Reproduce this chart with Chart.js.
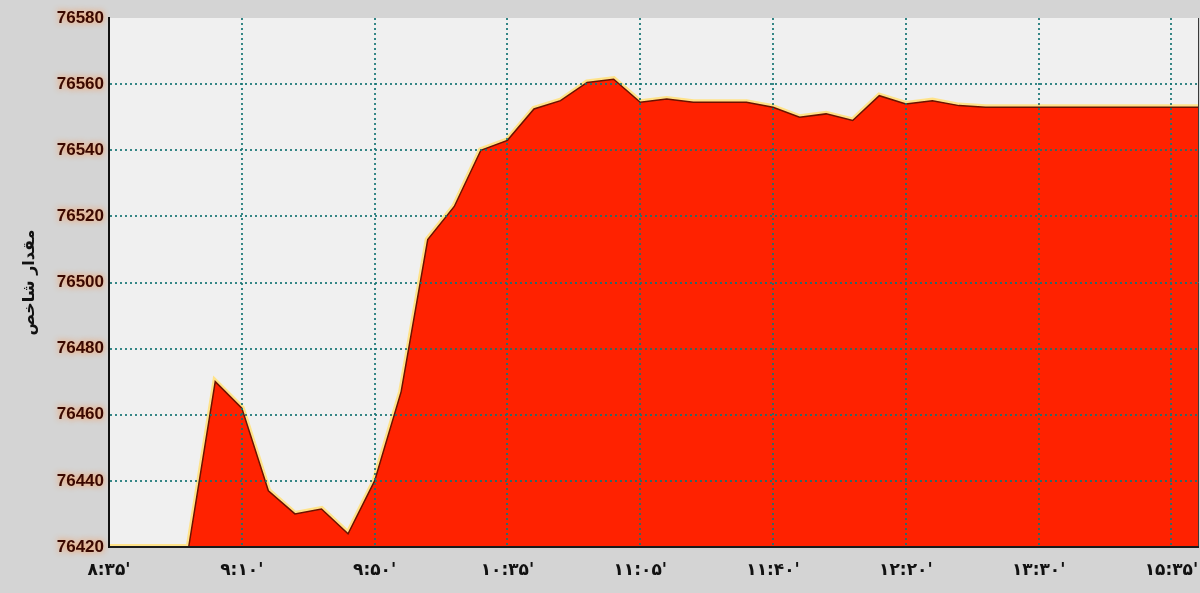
<!DOCTYPE html>
<html>
<head>
<meta charset="utf-8">
<script src="https://cdn.jsdelivr.net/npm/chart.js@4.4.1/dist/chart.umd.min.js"></script>
<style>
  html, body { margin: 0; padding: 0; background: #d4d4d4; }
  canvas { display: block; }
</style>
</head>
<body>
<canvas id="chart" width="1200" height="593"></canvas>
<script>
// tick labels every 5 samples
var tickLabels = ["۸:۳۵'", "۹:۱۰'", "۹:۵۰'", "۱۰:۳۵'", "۱۱:۰۵'", "۱۱:۴۰'", "۱۲:۲۰'", "۱۳:۳۰'", "۱۵:۳۵'"];

// index value, one sample per step
var values = [
  76420, 76420, 76420, 76420, 76470, 76462, 76437, 76430, 76431.5, 76424,
  76440, 76467, 76513, 76523, 76540, 76543, 76552.5, 76555, 76560.5, 76561.5,
  76554.5, 76555.5, 76554.5, 76554.5, 76554.5, 76553, 76550, 76551, 76549, 76556.5,
  76554, 76555, 76553.5, 76553, 76553, 76553, 76553, 76553, 76553, 76553,
  76553, 76553
];

var yMin = 76420, yMax = 76580, yStep = 20;
var yTitle = 'مقدار شاخص';

var categories = values.map(function(v, i){
    return i % 5 === 0 ? tickLabels[i / 5] : '';
});

var gridColor = 'rgba(20,115,115,0.85)';

// plot background + glow on y labels
var plotBg = {
    id: 'plotBg',
    beforeDraw: function(chart){
        var a = chart.chartArea, c = chart.ctx;
        c.save();
        c.fillStyle = '#f0f0f0';
        c.fillRect(a.left, a.top, a.right - a.left, a.bottom - a.top);
        c.strokeStyle = '#3a3a3a';
        c.lineWidth = 1;
        c.beginPath();
        c.moveTo(a.right + 0.5, a.top);
        c.lineTo(a.right + 0.5, a.bottom);
        c.stroke();
        c.restore();
        c.shadowColor = 'rgba(255,140,60,0.95)';
        c.shadowBlur = 6;
    },
    beforeDatasetsDraw: function(chart){
        chart.ctx.shadowColor = 'rgba(0,0,0,0)';
        chart.ctx.shadowBlur = 0;
    }
};

var ctx = document.getElementById('chart');
new Chart(ctx, {
    type: 'line',
    data: {
        labels: categories,
        datasets: [
            {
                data: values,
                fill: 'start',
                backgroundColor: '#ff2200',
                borderColor: '#6a1200',
                borderWidth: 1.5,
                pointRadius: 0,
                tension: 0,
                order: 1
            },
            {
                data: values,
                fill: false,
                borderColor: '#ffe38a',
                borderWidth: 6,
                pointRadius: 0,
                tension: 0,
                order: 2
            }
        ]
    },
    options: {
        responsive: false,
        animation: false,
        devicePixelRatio: 1,
        layout: { padding: { top: 18, right: 0, left: 0, bottom: 0 } },
        plugins: { legend: { display: false }, tooltip: { enabled: false } },
        scales: {
            x: {
                offset: false,
                grid: {
                    z: 1,
                    drawTicks: false,
                    lineWidth: 2,
                    color: function(c){ return (c.index > 0 && c.index % 5 === 0) ? gridColor : 'rgba(0,0,0,0)'; }
                },
                border: { display: true, color: '#1a1a1a', width: 2, dash: [2, 3], z: 2 },
                ticks: {
                    z: 2,
                    autoSkip: false,
                    maxRotation: 0,
                    padding: 13,
                    color: '#111',
                    font: { family: 'DejaVu Sans', size: 17, weight: 'bold' }
                },
                afterFit: function(s){
                    s.height = 46;
                    s.paddingLeft = 0;
                    s.paddingRight = 2;
                }
            },
            y: {
                min: yMin,
                max: yMax,
                grid: {
                    z: 1,
                    drawTicks: false,
                    lineWidth: 2,
                    color: function(c){ return (c.index > 0 && c.index < 8) ? gridColor : 'rgba(0,0,0,0)'; }
                },
                border: { display: true, color: '#111', width: 2, dash: [2, 3], z: 2 },
                ticks: {
                    stepSize: yStep,
                    padding: 5,
                    color: '#3a0800',
                    font: { family: 'Liberation Sans', size: 17, weight: 'bold' },
                    callback: function(v){ return String(v); }
                },
                title: {
                    display: true,
                    text: yTitle,
                    color: '#111',
                    padding: { top: 20, bottom: 0 },
                    font: { family: 'DejaVu Sans', size: 16, weight: 'bold' }
                },
                afterFit: function(s){ s.width = 109; }
            }
        }
    },
    plugins: [plotBg]
});
</script>
</body>
</html>
